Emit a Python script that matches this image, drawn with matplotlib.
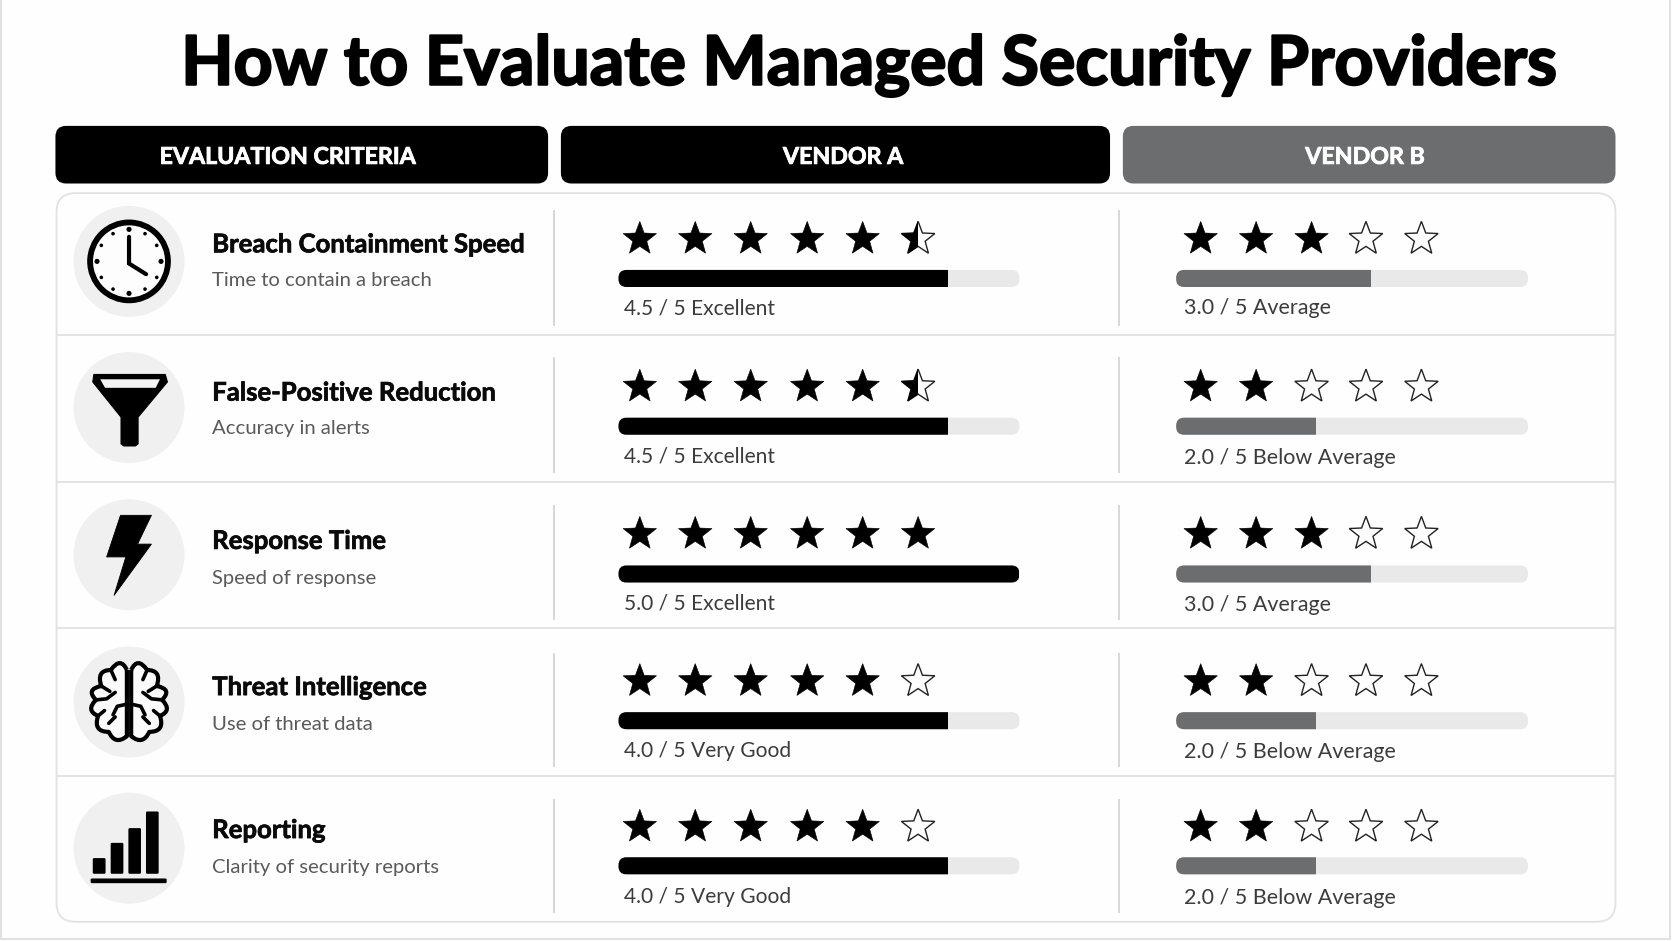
import numpy as np
import matplotlib
matplotlib.use("Agg")
import matplotlib.pyplot as plt
import matplotlib.patheffects as pe
from matplotlib.patches import FancyBboxPatch, Rectangle, Circle, Polygon, PathPatch
from matplotlib.path import Path

TITLE = "How to Evaluate Managed Security Providers"
HEADERS = ["EVALUATION CRITERIA", "VENDOR A", "VENDOR B"]
CRITERIA = ["Breach Containment Speed", "False-Positive Reduction", "Response Time",
            "Threat Intelligence", "Reporting"]
DESCRIPTIONS = ["Time to contain a breach", "Accuracy in alerts", "Speed of response",
                "Use of threat data", "Clarity of security reports"]
A_SCORES = [4.5, 4.5, 5.0, 4.0, 4.0]
B_SCORES = [3.0, 2.0, 3.0, 2.0, 2.0]
A_RATINGS = ["Excellent", "Excellent", "Excellent", "Very Good", "Very Good"]
B_RATINGS = ["Average", "Below Average", "Average", "Below Average", "Below Average"]
A_STARS = [5.5, 5.5, 6.0, 5.0, 5.0]      # out of 6 drawn
B_STARS = [3.0, 2.0, 3.0, 2.0, 2.0]      # out of 5 drawn
A_BAR_FILL = [0.822, 0.822, 1.0, 0.822, 0.822]
B_BAR_FILL = [0.555, 0.397, 0.555, 0.397, 0.397]

BLACK = "#000000"
GREY = "#6c6d6f"
TRACK = "#e9e9e9"
LINE = "#e2e2e2"
FONT = "Lato"

fig = plt.figure(figsize=(16.72, 9.41), dpi=100, facecolor="#fefefe")
ax = fig.add_axes([0, 0, 1, 1])
ax.set_xlim(0, 1568)
ax.set_ylim(882, 0)
ax.axis("off")


def heavy(width, color):
    return [pe.withStroke(linewidth=width, foreground=color)]


def rbox(x0, y0, x1, y1, r, **kw):
    p = FancyBboxPatch((x0 + r, y0 + r), x1 - x0 - 2 * r, y1 - y0 - 2 * r,
                       boxstyle=f"round,pad={r},rounding_size={r}", **kw)
    ax.add_patch(p)
    return p


def star_xy(cx, cy, R=16.5, ratio=0.42):
    ang = -np.pi / 2 + np.arange(10) * np.pi / 5
    rad = np.where(np.arange(10) % 2 == 0, R, R * ratio)
    return np.column_stack([cx + rad * np.cos(ang), cy + rad * np.sin(ang)])


def star(cx, cy, fill):
    xy = star_xy(cx, cy)
    if fill < 1:
        ax.add_patch(Polygon(xy, closed=True, fc="#fdfdfd", ec="#222222", lw=1.0, joinstyle="miter"))
    if fill > 0:
        p = Polygon(xy, closed=True, fc=BLACK, ec=BLACK, lw=0.4)
        ax.add_patch(p)
        if fill < 1:
            p.set_clip_path(Rectangle((cx - 20, cy - 20), 20, 40, transform=ax.transData))


def bar(x0, x1, yc, frac, color):
    h = 16
    rbox(x0, yc - h / 2, x1, yc + h / 2, 7.5, fc=TRACK, ec="none")
    p = rbox(x0, yc - h / 2, x1, yc + h / 2, 7.5, fc=color, ec="none")
    p.set_clip_path(Rectangle((x0, yc - h), (x1 - x0) * frac, 2 * h, transform=ax.transData))


# page frame
ax.add_patch(Rectangle((1.2, -5), 1565, 885.5, fc="none", ec="#dcdcdc", lw=1.2))

ax.text(814, 62, TITLE, fontsize=49, fontweight="bold", family=FONT, ha="center", va="center",
        color=BLACK, path_effects=heavy(1.6, BLACK))

# headers
header_cx = [269.5, 790.5, 1280]
for (x0, x1, col), lab, hx in zip([(52, 514, BLACK), (526, 1041, BLACK), (1053, 1515, GREY)], HEADERS, header_cx):
    rbox(x0, 118, x1, 172, 10, fc=col, ec="none")
    ax.text(hx, 147.5, lab, color="white", fontsize=16.7, fontweight="bold", family=FONT,
            ha="center", va="center", path_effects=heavy(0.6, "white"))

# table body
rbox(53, 181, 1515, 864, 18, fc="#fefefe", ec=LINE, lw=1.3)
for y in [314, 452, 589, 727]:
    ax.plot([53, 1515], [y, y], color=LINE, lw=1.3, solid_capstyle="butt")

row_vlines = [(197, 306), (335, 443), (473, 581), (612, 719), (749, 856)]
circle_y = [245, 382, 520, 658, 795]
name_y = [229, 368, 507, 644, 778]
desc_y = [263, 402, 542, 679, 813]
star_y = [224, 362.5, 500.5, 638.5, 775]
bar_y = [261, 399.5, 538, 675.5, 811.5]
a_lab_y = [289, 428, 566, 704, 841]
b_lab_y = [289, 429, 567, 705, 842]
a_star_x = [600, 652, 704, 757, 809, 861]
b_star_x = [1126, 1178, 1230, 1281, 1333]

for i in range(5):
    for vx in (519.5, 1049):
        ax.plot([vx, vx], row_vlines[i], color="#d4d4d4", lw=1.3, solid_capstyle="butt")
    ax.add_patch(Circle((121, circle_y[i]), 52, fc="#f0f0f0", ec="none"))
    ax.text(199, name_y[i], CRITERIA[i], fontsize=18.5, fontweight="bold", family=FONT, va="center",
            color="#0a0a0a", path_effects=heavy(0.5, "#0a0a0a"))
    ax.text(199, desc_y[i], DESCRIPTIONS[i], fontsize=14.6, family=FONT, va="center", color="#5a5a5a")
    for k, sx in enumerate(a_star_x):
        star(sx, star_y[i], min(max(A_STARS[i] - k, 0), 1))
    for k, sx in enumerate(b_star_x):
        star(sx, star_y[i], min(max(B_STARS[i] - k, 0), 1))
    bar(580, 956, bar_y[i], A_BAR_FILL[i], BLACK)
    bar(1103, 1433, bar_y[i], B_BAR_FILL[i], GREY)
    ax.text(585, a_lab_y[i], f"{A_SCORES[i]:.1f} / 5 {A_RATINGS[i]}", fontsize=15.1, family=FONT, va="center", color="#3c3c3c")
    ax.text(1110, b_lab_y[i], f"{B_SCORES[i]:.1f} / 5 {B_RATINGS[i]}", fontsize=15.5, family=FONT, va="center", color="#3c3c3c")

# --- icons ---
# clock
cx, cy = 121, 245
ax.add_patch(Circle((cx, cy), 36.5, fc="#fdfdfd", ec=BLACK, lw=4.2))
for k in range(12):
    a = k * np.pi / 6
    ax.add_patch(Circle((cx + 30 * np.sin(a), cy - 30 * np.cos(a)), 2.4 if k % 3 == 0 else 1.7, fc=BLACK, ec="none"))
ax.plot([cx, cx, cx + 16], [cy - 23, cy + 2, cy + 12], color=BLACK, lw=3.0, solid_joinstyle="miter", solid_capstyle="round")

# funnel
ax.add_patch(Polygon([(88, 351), (155, 351), (157, 358), (129.5, 391), (129.5, 416), (127, 418), (116, 418),
                      (113.5, 416), (113.5, 391), (87, 358)], closed=True, fc=BLACK, ec=BLACK, lw=0.8, joinstyle="round"))
ax.add_patch(Polygon([(94, 355.5), (150, 355.5), (146, 363.5), (98.5, 363.5)], closed=True, fc="#f4f4f4", ec="none"))

# bolt
ax.add_patch(Polygon([(113, 483), (142, 483), (129, 510), (142, 510), (107, 558), (118, 522), (100, 522)],
                     closed=True, fc=BLACK, ec=BLACK, lw=0.6, joinstyle="round"))

# brain
bx, by = 121, 658
outline = [(2, -30), (8, -43), (17, -30), (31, -30), (26, -15), (41, -12), (31, -2),
           (41, 8), (29, 13), (34, 28), (19, 28), (13, 41), (2, 32)]
codes = [Path.MOVETO] + [Path.CURVE3] * 12 + [Path.LINETO]
strokes = [[(26, -15), (18, -10)], [(17, -30), (13, -21)], [(31, -2), (21, -3), (13, -9)],
           [(2, 2), (11, 4), (15, 12)], [(19, 20), (13, 14)], [(29, 13), (23, 8)]]
for sgn in (-1, 1):
    verts = [(bx + sgn * px, by + py) for px, py in outline]
    ax.add_patch(PathPatch(Path(verts + [verts[0]], codes), fc="#fbfbfb", ec=BLACK, lw=3.0, joinstyle="round"))
    for s in strokes:
        ax.plot([bx + sgn * p[0] for p in s], [by + p[1] for p in s], color=BLACK, lw=2.6, solid_capstyle="round")

# reporting icon
for x0, x1, top in [(87, 99, 804.3), (103.8, 115.7, 790), (120.4, 132.2, 776.2), (136.9, 148.8, 760.6)]:
    rbox(x0, top, x1, 819, 1.2, fc=BLACK, ec="none")
rbox(85, 823.4, 156.3, 827.8, 1.2, fc=BLACK, ec="none")

fig.savefig("out.png", dpi=100, facecolor=fig.get_facecolor())
